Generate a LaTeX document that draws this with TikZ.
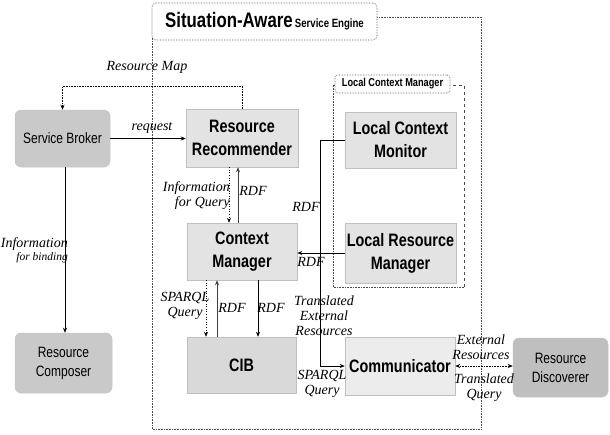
\documentclass[tikz,border=0pt]{standalone}
\usepackage{fontspec}
\setmainfont{Liberation Serif}
\newfontfamily\nsans[FakeStretch=0.8]{Liberation Sans}
\usetikzlibrary{arrows.meta,shadows,calc}

\tikzset{
  core/.style={rectangle, fill=gray!22, draw=gray!50, line width=0.5pt,
    drop shadow={shadow xshift=1.2pt, shadow yshift=-1.2pt, fill=gray!85, opacity=1},
    font=\nsans\bfseries\fontsize{18}{23}\selectfont, align=center, inner sep=1pt},
  ext/.style={rectangle, rounded corners=6pt, fill=gray!42, draw=gray!45, line width=0.5pt,
    font=\nsans\fontsize{15}{19}\selectfont, align=center, inner sep=1pt},
  lbl/.style={font=\itshape\fontsize{14}{15}\selectfont, inner sep=0pt, align=center},
  arr/.style={-{Stealth[length=5pt,width=4pt]}, line width=0.6pt},
  frame/.style={line width=0.6pt, gray!60!black},
}

\begin{document}
\begin{tikzpicture}[x=1pt,y=-1pt]
\useasboundingbox (0,0) rectangle (610,434);

% engine frame
\draw[frame, densely dotted] (152,17) rectangle (481,429);
\node[draw=gray!60!black, densely dotted, line width=0.6pt, rounded corners=4pt, fill=white,
      minimum width=225pt, minimum height=37pt, inner sep=0pt,
      font=\nsans\bfseries] (title) at (264.5,21.5)
  {{\fontsize{21}{22}\selectfont Situation-Aware} {\fontsize{12}{14}\selectfont Service Engine}};

% local context manager frame
\draw[frame, dashed] (333,85) -- (464,85) -- (464,287);
\draw[frame, densely dotted] (464,287) -- (333,287) -- (333,85);
\node[draw=gray!60!black, densely dotted, line width=0.6pt, rounded corners=3pt, fill=white,
      minimum width=115pt, minimum height=18pt, inner sep=0pt,
      font=\nsans\bfseries\fontsize{11.5}{13}\selectfont] (lcmtitle) at (392.5,84)
  {Local Context Manager};

% external components
\node[ext, minimum width=95pt, minimum height=57pt] (sb) at (62.5,138.5) {Service Broker};
\node[ext, minimum width=97pt, minimum height=60pt] (rc) at (63.5,363) {Resource\\Composer};
\node[ext, fill=gray!50, minimum width=95pt, minimum height=59pt] (rd) at (560.5,367.5) {Resource\\Discoverer};

% engine components
\node[core, minimum width=112pt, minimum height=58pt] (rr) at (242,138) {Resource\\Recommender};
\node[core, minimum width=110pt, minimum height=57pt] (cm) at (242,251.5) {Context\\Manager};
\node[core, fill=gray!30, minimum width=109pt, minimum height=56pt] (cib) at (241.5,365) {CIB};
\node[core, fill=gray!15, minimum width=110pt, minimum height=58pt] (com) at (400,366) {Communicator};
\node[core, minimum width=111pt, minimum height=56pt] (lcmon) at (400.5,140) {Local Context\\Monitor};
\node[core, minimum width=111pt, minimum height=60pt] (lrm) at (400.5,253) {Local Resource\\Manager};

% routing helpers
\coordinate (mapy) at (0,86);
\coordinate (bendx) at (320,0);

% connectors
\draw[arr, densely dotted] (rr.north) -- (rr.north |- mapy) -| (sb.north);
\draw[arr] (sb.east) -- (sb.east -| rr.west);
\draw[arr] ([xshift=2.5pt]sb.south) -- ([xshift=2.5pt]sb.south |- rc.north);
\draw[arr, dotted] ([xshift=-13pt]rr.south) -- ([xshift=-13pt]rr.south |- cm.north);
\draw[arr, gray!50!black] ([xshift=-4pt]cm.north) -- ([xshift=-4pt]cm.north |- rr.south);
\draw[arr, dotted] ([xshift=-36pt]cm.south) -- ([xshift=-36pt]cm.south |- cib.north);
\draw[arr, gray!50!black] ([xshift=-25pt]cib.north -| cm.south) -- ([xshift=-25pt]cm.south);
\draw[arr] ([xshift=16pt]cm.south) -- ([xshift=16pt]cm.south |- cib.north);
\draw[arr] (lrm.west) -- (lrm.west -| cm.east);
\draw[arr] (lcmon.west) -- (bendx |- lcmon.west) -- (bendx |- com.west) -- (com.west);
\draw[{Stealth[length=5pt,width=4pt]}-{Stealth[length=5pt,width=4pt]}, line width=0.6pt, densely dotted]
  (com.east) -- (com.east -| rd.west);

% connector labels
\node[lbl] (lmap) at (147,67) {Resource Map};
\node[lbl] (lreq) at (152,128) {request};
\node[lbl, anchor=east, align=right] (lbind) at (68,250) {Information\\[-2pt]{\fontsize{11.5}{13}\selectfont for binding}};
\node[lbl, anchor=east, align=right] (linfo) at (230,196) {Information\\for Query};
\node[lbl] (lrdf1) at (253,191) {RDF};
\node[lbl] (lrdf2) at (306,207) {RDF};
\node[lbl] (lrdf3) at (311,262) {RDF};
\node[lbl] (lsparql1) at (185,306) {SPARQL\\Query};
\node[lbl] (lrdf4) at (232,308) {RDF};
\node[lbl] (lrdf5) at (271,308) {RDF};
\node[lbl] (ltrans) at (324,316) {Translated\\External\\Resources};
\node[lbl] (lsparql2) at (322,384) {SPARQL\\Query};
\node[lbl] (lext) at (481,347) {External\\Resources};
\node[lbl] (ltq) at (484,388) {Translated\\Query};
\end{tikzpicture}
\end{document}
